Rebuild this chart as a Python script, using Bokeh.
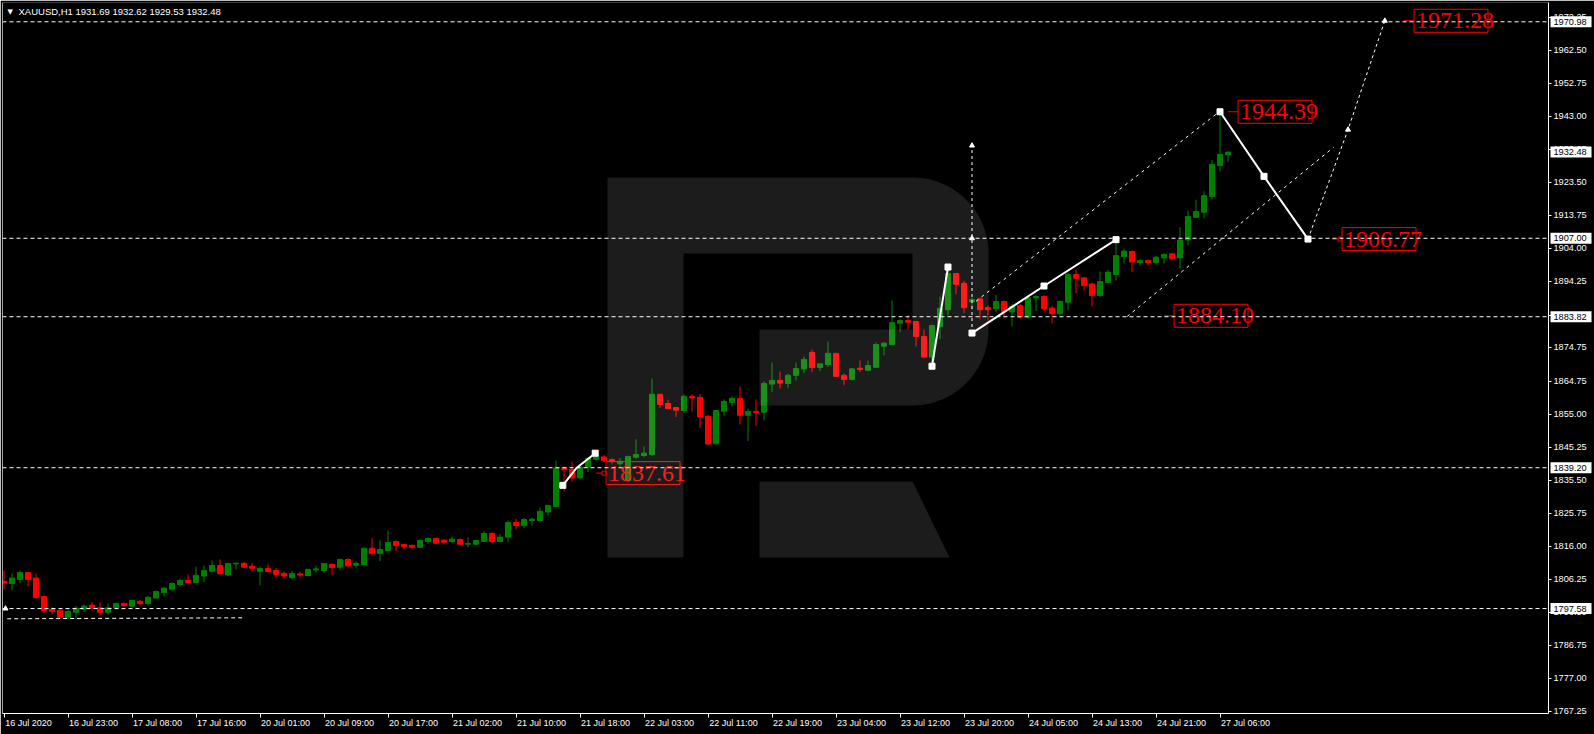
import numpy as np
from bokeh.plotting import figure
from bokeh.models import (Range1d, FixedTicker, PrintfTickFormatter, Span, Label,
                          LinearAxis, ColumnDataSource, GridBox)
from bokeh.core.properties import value
from bokeh.embed import file_html
from bokeh.resources import INLINE

# ---------------- XAUUSD H1 bars (bar 0 = 16 Jul 2020 15:00) ----------------
opens = [
    1805.6, 1805.0, 1806.2, 1808.2, 1806.6, 1801.1, 1797.4, 1797.0, 1794.9, 1796.5,
    1797.4, 1798.6, 1797.8, 1796.5, 1797.8, 1799.1, 1798.3, 1799.7, 1799.1, 1800.7,
    1802.3, 1803.3, 1804.7, 1805.9, 1805.3, 1807.2, 1808.6, 1810.3, 1807.5, 1810.8,
    1810.9, 1810.1, 1808.6, 1809.4, 1808.8, 1808.0, 1806.7, 1807.8, 1807.3, 1809.0,
    1808.8, 1810.6, 1809.8, 1812.1, 1810.4, 1810.6, 1815.4, 1813.9, 1814.7, 1817.4,
    1816.5, 1816.2, 1815.7, 1817.4, 1818.3, 1817.8, 1817.4, 1818.0, 1816.6, 1816.6,
    1817.4, 1819.8, 1817.4, 1818.7, 1823.0, 1822.1, 1823.6, 1823.6, 1826.1, 1827.7,
    1839.2, 1838.7, 1836.2, 1839.4, 1841.7, 1842.4, 1841.6, 1840.4, 1835.4, 1842.3,
    1842.8, 1843.1, 1860.9, 1858.2, 1857.0, 1856.1, 1860.3, 1860.0, 1854.4, 1846.3,
    1855.9, 1858.5, 1859.7, 1854.7, 1855.8, 1855.6, 1863.9, 1865.0, 1864.1, 1866.5,
    1868.4, 1873.3, 1868.8, 1869.7, 1873.0, 1866.5, 1865.3, 1868.6, 1868.0, 1868.9,
    1875.1, 1875.6, 1881.9, 1882.7, 1882.4, 1878.0, 1871.9, 1880.9, 1885.9, 1896.6,
    1893.7, 1888.2, 1889.1, 1886.5, 1886.2, 1888.3, 1885.2, 1887.1, 1883.7, 1889.4,
    1889.8, 1886.4, 1884.7, 1888.1, 1896.3, 1895.3, 1893.5, 1890.1, 1894.0, 1896.3,
    1901.6, 1903.1, 1899.8, 1900.4, 1899.8, 1901.2, 1902.4, 1901.2, 1906.5, 1913.2,
    1914.7, 1919.3, 1928.5, 1931.69,
]
highs = [
    1808.8, 1808.0, 1808.8, 1808.3, 1807.9, 1801.4, 1798.0, 1797.5, 1797.2, 1798.3,
    1798.8, 1799.5, 1799.4, 1799.1, 1799.3, 1799.3, 1800.2, 1800.2, 1801.3, 1802.9,
    1803.9, 1805.4, 1806.4, 1807.7, 1810.0, 1810.3, 1811.8, 1812.1, 1811.1, 1811.1,
    1811.4, 1811.1, 1810.0, 1810.6, 1809.6, 1808.5, 1808.8, 1808.5, 1809.2, 1810.3,
    1811.0, 1811.0, 1812.3, 1812.5, 1811.5, 1815.5, 1818.4, 1817.7, 1820.7, 1817.7,
    1816.8, 1816.5, 1818.0, 1818.6, 1818.5, 1818.1, 1818.9, 1818.3, 1818.6, 1817.9,
    1820.4, 1820.0, 1819.7, 1823.6, 1824.1, 1824.4, 1824.4, 1827.5, 1828.2, 1841.3,
    1839.6, 1841.0, 1839.6, 1842.3, 1844.3, 1843.0, 1841.9, 1842.1, 1842.8, 1847.6,
    1845.5, 1865.6, 1860.9, 1859.3, 1857.1, 1860.9, 1861.0, 1861.1, 1854.8, 1856.1,
    1859.4, 1860.3, 1863.2, 1856.7, 1859.4, 1864.7, 1870.3, 1867.6, 1866.9, 1870.3,
    1872.1, 1874.1, 1869.9, 1876.5, 1873.0, 1867.0, 1868.7, 1870.9, 1870.9, 1876.2,
    1876.2, 1888.6, 1883.2, 1884.2, 1882.4, 1880.1, 1881.5, 1889.8, 1898.5, 1896.6,
    1894.5, 1889.5, 1889.4, 1887.1, 1890.3, 1888.6, 1887.6, 1887.6, 1889.8, 1890.1,
    1890.1, 1887.1, 1888.6, 1896.7, 1897.7, 1895.5, 1893.7, 1897.2, 1897.7, 1906.5,
    1904.0, 1903.4, 1900.9, 1900.8, 1901.9, 1902.6, 1902.6, 1910.3, 1915.2, 1918.4,
    1920.9, 1930.2, 1944.39, 1932.62,
]
lows = [
    1803.3, 1802.9, 1805.1, 1804.1, 1800.5, 1796.2, 1795.8, 1794.8, 1794.7, 1794.5,
    1796.5, 1797.0, 1795.5, 1795.8, 1797.6, 1798.2, 1798.1, 1798.5, 1798.5, 1800.6,
    1801.2, 1802.7, 1804.1, 1805.1, 1805.1, 1805.4, 1808.3, 1807.4, 1807.2, 1809.2,
    1809.7, 1808.6, 1804.4, 1808.5, 1806.9, 1806.5, 1806.3, 1806.8, 1807.2, 1808.2,
    1808.0, 1807.4, 1808.8, 1809.7, 1809.4, 1810.5, 1813.5, 1811.6, 1814.7, 1814.5,
    1815.1, 1815.1, 1815.5, 1816.6, 1816.7, 1816.6, 1816.9, 1816.4, 1815.7, 1816.2,
    1817.4, 1816.9, 1817.2, 1817.2, 1821.0, 1821.3, 1822.1, 1823.3, 1825.1, 1827.5,
    1832.3, 1835.0, 1835.9, 1837.9, 1841.3, 1840.9, 1840.2, 1839.6, 1835.0, 1841.9,
    1842.3, 1842.6, 1856.9, 1856.4, 1854.2, 1855.3, 1855.8, 1850.9, 1846.1, 1846.1,
    1854.4, 1857.3, 1852.0, 1847.1, 1851.5, 1853.2, 1861.5, 1862.6, 1862.7, 1865.0,
    1867.1, 1867.5, 1867.8, 1868.9, 1866.0, 1863.6, 1865.0, 1867.5, 1867.7, 1868.9,
    1872.4, 1875.3, 1879.3, 1880.1, 1875.0, 1871.7, 1869.9, 1877.2, 1884.2, 1890.5,
    1884.9, 1886.0, 1883.2, 1882.7, 1885.2, 1883.7, 1880.9, 1883.2, 1883.2, 1885.5,
    1885.5, 1881.9, 1884.2, 1885.7, 1890.8, 1891.6, 1886.8, 1889.6, 1893.7, 1894.5,
    1899.5, 1897.0, 1899.0, 1899.0, 1899.3, 1899.5, 1900.6, 1898.0, 1904.9, 1913.0,
    1912.9, 1918.4, 1926.8, 1929.53,
]
closes = [
    1805.1, 1806.6, 1808.2, 1806.2, 1800.8, 1797.0, 1796.8, 1795.0, 1796.7, 1797.7,
    1798.3, 1797.8, 1796.5, 1797.8, 1799.1, 1798.4, 1800.0, 1799.1, 1800.9, 1802.6,
    1803.6, 1805.0, 1805.9, 1805.3, 1807.4, 1808.8, 1810.3, 1807.9, 1810.9, 1811.0,
    1809.8, 1809.5, 1809.4, 1808.5, 1807.7, 1807.2, 1807.9, 1807.5, 1809.1, 1809.3,
    1810.9, 1809.7, 1812.1, 1810.2, 1810.9, 1815.4, 1813.9, 1815.0, 1817.1, 1816.2,
    1815.9, 1815.7, 1817.7, 1818.3, 1816.9, 1817.2, 1818.1, 1816.6, 1816.8, 1817.7,
    1819.8, 1817.4, 1818.7, 1823.0, 1822.1, 1823.9, 1824.0, 1826.3, 1828.0, 1839.1,
    1838.6, 1836.2, 1839.4, 1841.9, 1842.8, 1841.3, 1841.1, 1841.1, 1842.5, 1843.1,
    1843.5, 1860.9, 1857.9, 1856.7, 1856.2, 1860.3, 1859.8, 1854.2, 1846.2, 1856.1,
    1858.8, 1859.7, 1854.7, 1855.8, 1855.5, 1864.1, 1865.0, 1864.2, 1866.5, 1868.5,
    1871.2, 1868.8, 1869.9, 1873.0, 1866.2, 1865.3, 1868.4, 1868.2, 1869.4, 1875.6,
    1876.0, 1882.1, 1882.7, 1882.2, 1878.0, 1871.9, 1881.2, 1886.3, 1896.6, 1893.4,
    1886.5, 1888.9, 1885.9, 1885.9, 1888.3, 1885.4, 1886.8, 1883.7, 1889.4, 1889.8,
    1886.2, 1884.7, 1888.3, 1896.3, 1895.2, 1893.0, 1890.1, 1894.2, 1897.0, 1901.9,
    1903.2, 1900.0, 1900.4, 1899.8, 1901.4, 1902.2, 1901.0, 1906.5, 1913.4, 1914.9,
    1919.6, 1928.8, 1931.8, 1932.48,
]

# time axis labels (one every 8 bars)
time_label_bars = [0, 8, 16, 24, 32, 40, 48, 56, 64, 72, 80, 88, 96, 104, 112, 120, 128, 136, 144, 152]
time_labels = ["16 Jul 2020", "16 Jul 23:00", "17 Jul 08:00", "17 Jul 16:00", "20 Jul 01:00",
               "20 Jul 09:00", "20 Jul 17:00", "21 Jul 02:00", "21 Jul 10:00", "21 Jul 18:00",
               "22 Jul 03:00", "22 Jul 11:00", "22 Jul 19:00", "23 Jul 04:00", "23 Jul 12:00",
               "23 Jul 20:00", "24 Jul 05:00", "24 Jul 13:00", "24 Jul 21:00", "27 Jul 06:00"]

# price scale ticks
price_ticks = [1767.25, 1777.00, 1786.75, 1796.50, 1806.25, 1816.00, 1825.75, 1835.50,
               1845.25, 1855.00, 1864.75, 1874.75, 1884.25, 1894.25, 1904.00, 1913.75,
               1923.50, 1933.25, 1943.00, 1952.75, 1962.50, 1972.25]

# horizontal levels and highlighted prices on the scale
level_lines = [1970.98, 1907.00, 1883.82, 1839.20, 1797.58]
scale_marks = [1970.98, 1932.48, 1907.00, 1883.82, 1839.20, 1797.58]

# wave / forecast drawings (bar index, price)
wave_a_bars, wave_a_prices = [69.85, 71.6, 73.9], [1834.0, 1839.2, 1843.5]
wave_b_bars, wave_b_prices = [116.0, 118.0], [1869.2, 1898.5]
wave_c_bars, wave_c_prices = [121.0, 130.0, 139.0], [1879.0, 1892.9, 1906.6]
wave_d_bars, wave_d_prices = [152.0, 157.5, 163.0], [1944.39, 1925.3, 1906.77]
path_e_bars, path_e_prices = [163.0, 168.0, 172.6], [1906.77, 1939.1, 1971.28]
vert_f_bars, vert_f_prices = [121.0, 121.0], [1879.0, 1934.4]
chan_up_bars, chan_up_prices = [121.5, 151.8], [1888.4, 1944.2]
chan_lo_bars, chan_lo_prices = [140.4, 166.2], [1883.9, 1933.9]
base_bars, base_prices = [0.4, 30.0], [1794.56, 1794.85]

# target price labels
target_prices = [1971.28, 1944.39, 1906.77, 1884.10, 1837.61]
target_bars = [175.0, 153.0, 166.0, 145.0, 74.0]
target_has_anchor = [False, False, True, False, True]

header_text = "XAUUSD,H1  1931.69 1932.62 1929.53 1932.48"

# ---------------- layout ----------------
W, H = 1594, 734
FRAME_L, FRAME_R, FRAME_T, FRAME_B = 2, 1548, 2, 713
BAR_PX = 8.0
X_START = -0.1875
X_END = X_START + (FRAME_R - FRAME_L) / BAR_PX
Y_START, Y_END = 1766.57, 1976.68
PX_PER_PRICE = (FRAME_B - FRAME_T) / (Y_END - Y_START)


def px_x(px):
    return X_START + (px - FRAME_L) / BAR_PX


def px_y(py):
    return Y_END - (py - FRAME_T) / PX_PER_PRICE


GREEN = "#008000"
RED = "#FF0000"
FONT = "Liberation Sans"
X_FONT_PX = 9.0
Y_FONT_PX = 9.2

# advance widths (1/1000 em) for the time label glyphs
ADV = {"0": 556, "1": 556, "2": 556, "3": 556, "4": 556, "5": 556, "6": 556, "7": 556,
       "8": 556, "9": 556, " ": 278, ":": 278, "J": 500, "u": 556, "l": 222}


def text_px(s, size):
    return sum(ADV.get(ch, 556) for ch in s) * size / 1000.0


p = figure(width=W, height=H, x_range=Range1d(X_START, X_END), y_range=Range1d(Y_START, Y_END),
           y_axis_location="right", output_backend="svg", toolbar_location=None,
           background_fill_color="black", border_fill_color="black", outline_line_color=None,
           min_border_left=FRAME_L, min_border_right=W - FRAME_R,
           min_border_top=FRAME_T, min_border_bottom=H - FRAME_B)
p.grid.visible = False
p.frame_align = False

# time axis: tick marks on the first axis ...
p.xaxis.ticker = FixedTicker(ticks=time_label_bars)
p.xaxis.major_label_text_font_size = "1px"
p.xaxis.major_label_text_alpha = 0
p.xaxis.major_label_standoff = 0
p.xaxis.axis_line_color = "white"
p.xaxis.major_tick_line_color = "white"
p.xaxis.major_tick_in = 0
p.xaxis.major_tick_out = 4
p.xaxis.minor_tick_line_color = None

# ... and left-aligned labels on a second one (each label centred half its width to the right)
label_pos = [b + (1 + round(text_px(t, X_FONT_PX)) / 2) / BAR_PX
             for b, t in zip(time_label_bars, time_labels)]
time_axis = LinearAxis(ticker=FixedTicker(ticks=label_pos),
                       major_label_overrides={pos: t for pos, t in zip(label_pos, time_labels)},
                       axis_line_color=None, major_tick_line_color=None,
                       minor_tick_line_color=None, major_tick_in=0, major_tick_out=0,
                       major_label_standoff=0, major_label_text_color="white",
                       major_label_text_font=FONT, major_label_text_font_size=f"{X_FONT_PX}px")
p.add_layout(time_axis, "below")

p.yaxis.ticker = FixedTicker(ticks=price_ticks)
p.yaxis.formatter = PrintfTickFormatter(format="%.2f")
p.yaxis.axis_line_color = "white"
p.yaxis.major_tick_line_color = "white"
p.yaxis.major_tick_in = 0
p.yaxis.major_tick_out = 3
p.yaxis.minor_tick_line_color = None
p.yaxis.major_label_standoff = 2
p.yaxis.major_label_text_color = "white"
p.yaxis.major_label_text_font = FONT
p.yaxis.major_label_text_font_size = f"{Y_FONT_PX}px"

# left frame edge
p.add_layout(Span(location=X_START, dimension="height", line_color="white", line_width=1))

# horizontal levels
for lv in level_lines:
    p.add_layout(Span(location=lv, dimension="width", line_color="white",
                      line_dash="4 3", line_width=1))

# candles
idx = list(range(len(opens)))
colors = [GREEN if c >= o else RED for o, c in zip(opens, closes)]
src = ColumnDataSource(dict(x=idx, o=opens, h=highs, l=lows, c=closes,
                            top=[max(o, c) for o, c in zip(opens, closes)],
                            bot=[min(o, c) for o, c in zip(opens, closes)],
                            color=colors))
p.segment(x0="x", y0="h", x1="x", y1="l", source=src, line_color="color", line_width=1)
p.vbar(x="x", top="top", bottom="bot", width=5 / BAR_PX, source=src,
       fill_color="color", line_color="color", line_width=1)

# short base line at the left
p.line(base_bars, base_prices, line_color="white", line_dash="4 3", line_width=1)

# channel lines
p.line(chan_up_bars, chan_up_prices, line_color="white", line_dash="3 4", line_width=1)
p.line(chan_lo_bars, chan_lo_prices, line_color="white", line_dash="3 4", line_width=1)

# dotted projection and vertical measure
p.line(path_e_bars, path_e_prices, line_color="white", line_dash="3 3", line_width=1)
p.line(vert_f_bars, vert_f_prices, line_color="white", line_dash="3 3", line_width=1)
p.scatter([path_e_bars[1], path_e_bars[2]], [path_e_prices[1], path_e_prices[2]],
          marker="triangle", size=5, color="white")
p.scatter([vert_f_bars[1], vert_f_bars[1]], [1907.0, vert_f_prices[1]],
          marker="triangle", size=5, color="white")

# solid wave lines with square nodes
for bx, pr in [(wave_a_bars, wave_a_prices), (wave_b_bars, wave_b_prices),
               (wave_c_bars, wave_c_prices), (wave_d_bars, wave_d_prices)]:
    p.line(bx, pr, line_color="white", line_width=2)
p.scatter([wave_a_bars[0], wave_a_bars[-1]], [wave_a_prices[0], wave_a_prices[-1]],
          marker="square", size=6, color="white")
p.scatter(wave_b_bars + wave_c_bars + wave_d_bars,
          wave_b_prices + wave_c_prices + wave_d_prices,
          marker="square", size=6, color="white")

# small arrow at the left end of the lower level
p.scatter([px_x(5)], [level_lines[-1]], marker="triangle", size=5, color="white")

# target price labels: short lead-in line, red box and value
BOX_W, BOX_H, LEAD = 74, 23, 10
lead_x1 = [b + LEAD / BAR_PX for b in target_bars]
p.segment(x0=target_bars, y0=target_prices, x1=lead_x1, y1=target_prices,
          line_color=RED, line_width=1)
p.scatter([b + (LEAD - 2) / BAR_PX for b, a in zip(target_bars, target_has_anchor) if a],
          [v for v, a in zip(target_prices, target_has_anchor) if a],
          marker="square", size=4, fill_color="black", line_color=RED, line_width=1)
p.rect(x=[b + (LEAD + BOX_W / 2) / BAR_PX for b in target_bars], y=target_prices,
       width=BOX_W, height=BOX_H, width_units="screen", height_units="screen",
       fill_color=None, line_color=RED, line_width=1)
p.text(x=[b + (LEAD + 2) / BAR_PX for b in target_bars], y=target_prices,
       text=[f"{v:.2f}" for v in target_prices], text_color=RED,
       text_font=value("Liberation Sans Narrow"), text_font_size="24px",
       text_align="left", text_baseline="middle")


# watermark logo (pixel geometry mapped into data space)
def arc(cx, cy, r, a0, a1, n=24):
    t = np.radians(np.linspace(a0, a1, n))
    return list(zip(cx + r * np.cos(t), cy - r * np.sin(t)))


body_pts = ([(607, 177), (912, 177)] + arc(912, 253, 76, 90, 0) + arc(912, 329, 76, 0, -90)
            + [(759, 405), (759, 329), (912, 329), (912, 253), (683, 253), (683, 557), (607, 557)])
leg_pts = [(759, 481), (912, 481), (949, 557), (759, 557)]
wm_xs = [[px_x(a) for a, _ in pts] for pts in (body_pts, leg_pts)]
wm_ys = [[px_y(b) for _, b in pts] for pts in (body_pts, leg_pts)]
p.patches(wm_xs, wm_ys, fill_color="white", fill_alpha=0.11, line_color=None, level="overlay")

# header
p.add_layout(Label(x=X_START, y=Y_END, x_offset=5, y_offset=-9, text="\u25bc",
                   text_align="left", text_baseline="middle", text_color="white",
                   text_font="DejaVu Sans", text_font_size="7px"))
p.add_layout(Label(x=X_START, y=Y_END, x_offset=16, y_offset=-9, text=header_text,
                   text_align="left", text_baseline="middle", text_color="white",
                   text_font=FONT, text_font_size="9.5px"))

# ---------------- transparent overlay spanning the whole canvas ----------------
# same bar/price scale as the chart, so the highlighted scale prices line up with the axis
q = figure(width=W, height=H, x_range=Range1d(px_x(0), px_x(W)), y_range=Range1d(px_y(H), px_y(0)),
           output_backend="svg", toolbar_location=None, x_axis_location=None,
           y_axis_location=None, min_border=0, outline_line_color=None,
           background_fill_alpha=0, border_fill_alpha=0)
q.grid.visible = False
q.frame_align = False
MARK_W, MARK_H = 41, 11
q.rect(x=[px_x(FRAME_R + 2 + MARK_W / 2)] * len(scale_marks), y=scale_marks,
       width=MARK_W, height=MARK_H, width_units="screen", height_units="screen",
       fill_color="white", line_color=None)
q.text(x=[px_x(FRAME_R + 5)] * len(scale_marks), y=scale_marks,
       text=[f"{v:.2f}" for v in scale_marks], text_color="black",
       text_font=value(FONT), text_font_size=f"{Y_FONT_PX}px",
       text_align="left", text_baseline="middle")

root = GridBox(children=[(p, 0, 0), (q, 0, 0)])
open("out.html", "w").write(file_html(root, INLINE))
